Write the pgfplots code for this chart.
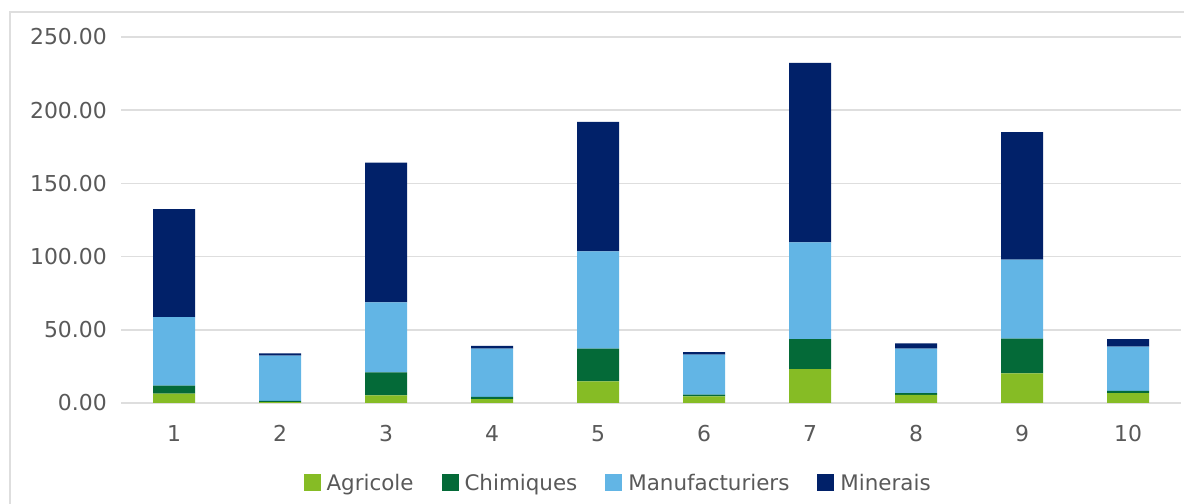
\documentclass[border=0pt]{standalone}
\usepackage{pgfplots}
\pgfplotsset{compat=1.18}
\usepackage{fontspec}
\setmainfont{DejaVu Sans}
\definecolor{agri}{HTML}{86BC25}
\definecolor{chim}{HTML}{046A38}
\definecolor{manu}{HTML}{62B5E5}
\definecolor{mine}{HTML}{012169}
\definecolor{txt}{HTML}{595959}
\definecolor{gridgray}{HTML}{DEDEDE}
\begin{document}
\begin{tikzpicture}[x=1bp,y=1bp]
\path[use as bounding box] (0,0) rectangle (1184,504);
\draw[gridgray, line width=2bp] (9.5,0) -- (9.5,492) -- (1184,492);
\begin{axis}[
  at={(121bp,101bp)}, anchor=origin,
  scale only axis, width=1060bp, height=366bp,
  ybar stacked, bar width=42bp,
  xmin=0.5, xmax=10.5, ymin=0, ymax=250,
  xtick={1,...,10}, ytick={0,50,...,250},
  axis line style={draw=none},
  major tick length=0pt,
  xmajorgrids=false, ymajorgrids=true,
  major grid style={draw=gridgray, line width=1.5bp},
  /pgf/number format/assume math mode=true,
  tick label style={text=txt, font=\fontsize{22}{26}\selectfont},
  yticklabel style={/pgf/number format/.cd, fixed, fixed zerofill, precision=2, /tikz/.cd, anchor=east, inner sep=0pt, xshift=-14bp},
  xticklabel style={anchor=north, inner sep=0pt, yshift=-22bp},
  legend columns=4,
  legend style={at={(0.468,-0.2186)}, anchor=center, draw=none, fill=none,
    inner sep=0pt, nodes={inner sep=0pt, text=txt}, column sep=6bp,
    /tikz/every even column/.append style={column sep=28bp},
    font=\fontsize{21.5}{25}\selectfont},
  legend image code/.code={\fill[#1, draw=none] (0bp,-8bp) rectangle (17bp,9bp);},
]
\addplot[fill=agri, draw=none] coordinates {(1,6.4) (2,0.6) (3,5.2) (4,2.7) (5,14.8) (6,4.5) (7,23.2) (8,5.5) (9,20.2) (10,6.8)};
\addplot[fill=chim, draw=none] coordinates {(1,5.4) (2,0.8) (3,15.7) (4,1.4) (5,22.3) (6,1.2) (7,20.5) (8,1.3) (9,23.7) (10,1.4)};
\addplot[fill=manu, draw=none] coordinates {(1,46.9) (2,30.9) (3,47.8) (4,33.0) (5,66.5) (6,27.3) (7,66.0) (8,30.3) (9,54.0) (10,30.3)};
\addplot[fill=mine, draw=none] coordinates {(1,73.8) (2,1.6) (3,95.4) (4,2.0) (5,88.5) (6,1.8) (7,122.7) (8,3.6) (9,87.2) (10,5.2)};
\legend{Agricole, Chimiques, Manufacturiers, Minerais}
\end{axis}
\end{tikzpicture}
\end{document}
